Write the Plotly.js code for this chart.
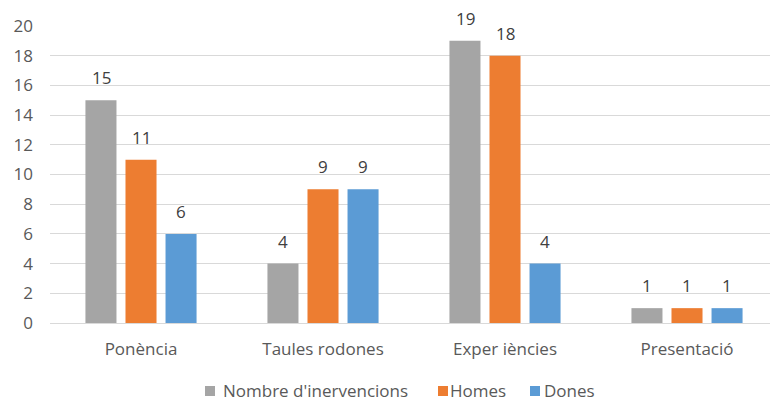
<!DOCTYPE html>
<html>
<head>
<meta charset="utf-8">
<script src="https://cdn.plot.ly/plotly-3.0.1.min.js"></script>
<style>html,body{margin:0;padding:0;background:#fff;}#chart{width:770px;height:402px;}</style>
</head>
<body>
<div id="chart"></div>
<script>
var categories = ["Ponència", "Taules rodones", "Experiències", "Presentació"];
var categoryLabels = ["Ponència", "Taules rodones", "Exper iències", "Presentació"];
var seriesNames = ["Nombre d'inervencions", "Homes", "Dones"];
var nombre = [15, 4, 19, 1];
var homes = [11, 9, 18, 1];
var dones = [6, 9, 4, 1];
var yTicks = [0, 2, 4, 6, 8, 10, 12, 14, 16, 18, 20];

var colors = ["#A5A5A5", "#ED7D31", "#5B9BD5"];
var allSeries = [nombre, homes, dones];
var offsets = [-40, 0, 40];
var FONT = "Open Sans, sans-serif";

// plot area geometry (pixels) for paper-referenced legend
var L = 50, R = 0, T = 26, B = 79, W = 770, H = 402;
var PW = W - L - R, PH = H - T - B;
function px(x) { return (x - L) / PW; }
function py(y) { return (H - B - y) / PH; }

var traces = allSeries.map(function (vals, i) {
  return {
    type: "bar",
    name: seriesNames[i],
    x: categories,
    y: vals,
    marker: {color: colors[i]},
    hoverinfo: "none",
    showlegend: false
  };
});

var annotations = [];
allSeries.forEach(function (vals, i) {
  vals.forEach(function (v, j) {
    annotations.push({
      x: categories[j], y: v, xref: "x", yref: "y",
      text: String(v), showarrow: false,
      yanchor: "bottom", xanchor: "center",
      xshift: offsets[i], yshift: 9,
      font: {family: FONT, size: 17, color: "#404040"}
    });
  });
});

// legend drawn with shapes + text annotations
var legSquares = [205, 438, 530];
var legText = [222, 449, 543];
var legY = 390;
var shapes = [];
seriesNames.forEach(function (name, i) {
  shapes.push({
    type: "rect", xref: "paper", yref: "paper",
    x0: px(legSquares[i]), x1: px(legSquares[i] + 10),
    y0: py(legY + 6), y1: py(legY - 4),
    fillcolor: colors[i], line: {width: 0}
  });
  annotations.push({
    xref: "paper", yref: "paper",
    x: px(legText[i]), y: py(legY),
    xanchor: "left", yanchor: "middle",
    text: name, showarrow: false, borderpad: 0,
    font: {family: FONT, size: 17, color: "#595959"}
  });
});

var layout = {
  width: W, height: H,
  margin: {l: L, r: R, t: T, b: B},
  paper_bgcolor: "#ffffff", plot_bgcolor: "#ffffff",
  barmode: "group",
  bargap: 0.34,
  bargroupgap: 0.225,
  showlegend: false,
  xaxis: {
    type: "category",
    range: [-0.5, 3.456],
    tickvals: categories,
    ticktext: categoryLabels,
    showgrid: false, zeroline: false, showline: false,
    ticks: "", ticklabelstandoff: 14, automargin: false,
    tickfont: {family: FONT, size: 17, color: "#595959"}
  },
  yaxis: {
    range: [0, 20],
    tickvals: yTicks,
    showgrid: true, gridcolor: "#D9D9D9", gridwidth: 1,
    zeroline: true, zerolinecolor: "#D9D9D9", zerolinewidth: 1,
    showline: false, ticks: "", automargin: false,
    ticklabelstandoff: 16,
    tickfont: {family: FONT, size: 17, color: "#595959"}
  },
  shapes: shapes,
  annotations: annotations
};

Plotly.newPlot("chart", traces, layout, {displayModeBar: false, staticPlot: true});
</script>
</body>
</html>
